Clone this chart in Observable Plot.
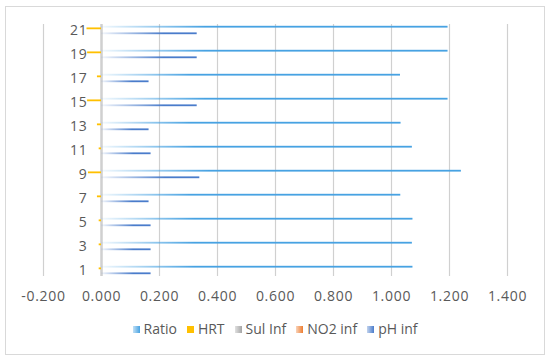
<!DOCTYPE html>
<html>
<head>
<meta charset="utf-8">
<script src="https://cdn.jsdelivr.net/npm/d3@7"></script>
<script src="https://cdn.jsdelivr.net/npm/@observablehq/plot@0.6"></script>
<style>
  body { margin: 0; background: #fff; }
  #wrap { position: relative; width: 550px; height: 360px; font-family: "Open Sans", sans-serif; }
  #frame { position: absolute; left: 5px; top: 6px; width: 538px; height: 347px; border: 1px solid #d9d9d9; }
  #chart { position: absolute; left: 0; top: 0; }
  #chart svg text { letter-spacing: 0.7px; }
  #legend { position: absolute; left: 0; top: 320px; width: 550px; display: flex; justify-content: center; align-items: center; font-size: 14px; color: #595959; line-height: 18px; }
  .item { display: flex; align-items: center; margin: 0 5px; }
  .sw { width: 7px; height: 7px; margin-right: 4px; }
</style>
</head>
<body>
<div id="wrap">
  <div id="frame"></div>
  <div id="chart"></div>
  <div id="legend"></div>
</div>
<script>
// Categories (1..21); only odd ones carry data
const categories = [1,2,3,4,5,6,7,8,9,10,11,12,13,14,15,16,17,18,19,20,21];
const yLabels = [1,3,5,7,9,11,13,15,17,19,21];
const xTicks = [-0.2, 0, 0.2, 0.4, 0.6, 0.8, 1.0, 1.2, 1.4];

const seriesNames = ["Ratio", "HRT", "Sul Inf", "NO2 inf", "pH inf"];
const ratio  = [1.074,null,1.072,null,1.074,null,1.032,null,1.241,null,1.072,null,1.033,null,1.195,null,1.031,null,1.195,null,1.195];
const hrt    = [-0.008,null,-0.008,null,-0.008,null,-0.014,null,-0.045,null,-0.008,null,-0.014,null,-0.048,null,-0.014,null,-0.048,null,-0.050];
const sulInf = [0,null,0,null,0,null,0,null,0,null,0,null,0,null,0,null,0,null,0,null,0];
const no2Inf = [0,null,0,null,0,null,0,null,0,null,0,null,0,null,0,null,0,null,0,null,0];
const phInf  = [0.171,null,0.171,null,0.171,null,0.164,null,0.339,null,0.171,null,0.164,null,0.330,null,0.164,null,0.330,null,0.330];

const colors = { "Ratio": "#47a2e2", "HRT": "#ffc000", "Sul Inf": "#a5a5a5", "NO2 inf": "#ed7d31", "pH inf": "#4a7ccb" };

const rows = categories.map((c, i) => ({
  cat: c, ratio: ratio[i], hrt: hrt[i], sul: sulInf[i], no2: no2Inf[i], ph: phInf[i]
})).filter(d => d.ratio != null);

const defs = () => {
  const g = d3.create("svg:defs");
  const mk = (id, color, end) => {
    const lg = g.append("linearGradient").attr("id", id).attr("x1", 0).attr("x2", 1).attr("y1", 0).attr("y2", 0);
    lg.append("stop").attr("offset", 0).attr("stop-color", color).attr("stop-opacity", 0.06);
    lg.append("stop").attr("offset", end).attr("stop-color", color).attr("stop-opacity", 1);
    lg.append("stop").attr("offset", 1).attr("stop-color", color).attr("stop-opacity", 1);
  };
  mk("gRatio", colors["Ratio"], 0.3);
  mk("gPh", colors["pH inf"], 0.65);
  mk("gSul", colors["Sul Inf"], 0.5);
  mk("gNo2", colors["NO2 inf"], 0.5);
  return g.node();
};

const barOpts = (field, fill, dy) => ({
  x: field, y: "cat", fill, insetTop: 5.1, insetBottom: 5.1, dy
});

const chart = Plot.plot({
  width: 550,
  height: 310,
  marginLeft: 43,
  marginRight: 43,
  marginTop: 24,
  marginBottom: 34,
  style: { fontFamily: "'Open Sans', sans-serif", fontSize: "14px", color: "#595959", background: "transparent" },
  x: { domain: [-0.2, 1.4] },
  y: { type: "band", domain: categories.slice().reverse(), padding: 0, axis: null },
  marks: [
    defs,
    Plot.ruleX(xTicks, { stroke: "#d0d0d0", strokeWidth: 1.2 }),
    Plot.ruleX([0], { stroke: "#d0d0d0", strokeWidth: 2.5 }),
    Plot.barX(rows, barOpts("ratio", "url(#gRatio)", -3.3)),
    Plot.barX(rows, barOpts("hrt", colors["HRT"], -1.65)),
    Plot.barX(rows, barOpts("sul", "url(#gSul)", 0)),
    Plot.barX(rows, barOpts("no2", "url(#gNo2)", 1.65)),
    Plot.barX(rows, barOpts("ph", "url(#gPh)", 3.3)),
    Plot.axisX({ ticks: xTicks, tickSize: 0, tickPadding: 15, tickFormat: d => d.toFixed(3), label: null, fill: "#595959" }),
    // category labels sit next to the zero line, as in the Excel chart
    Plot.text(yLabels, { x: () => 0, y: d => d, text: d => String(d), textAnchor: "end", dx: -14, fill: "#595959" })
  ]
});
document.getElementById("chart").appendChild(chart);

const legend = document.getElementById("legend");
seriesNames.forEach(name => {
  const item = document.createElement("div");
  item.className = "item";
  const sw = document.createElement("span");
  sw.className = "sw";
  const c = colors[name];
  sw.style.background = name === "HRT" ? c : `linear-gradient(to right, ${c}55, ${c})`;
  const t = document.createElement("span");
  t.textContent = name;
  item.appendChild(sw);
  item.appendChild(t);
  legend.appendChild(item);
});
</script>
</body>
</html>
